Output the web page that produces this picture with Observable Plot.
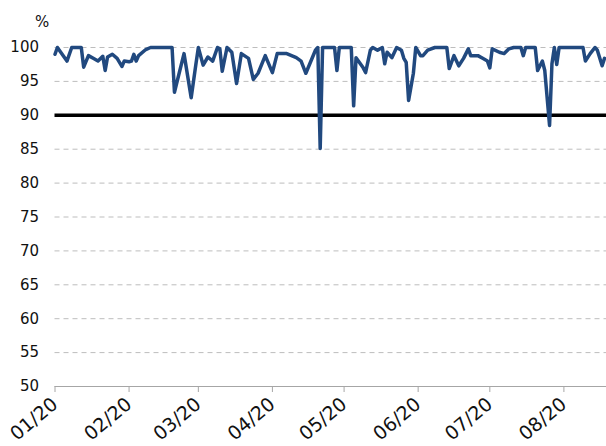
<!DOCTYPE html>
<html>
<head>
<meta charset="utf-8">
<script src="https://cdn.jsdelivr.net/npm/d3@7"></script>
<script src="https://cdn.jsdelivr.net/npm/@observablehq/plot@0.6"></script>
<style>
  html, body { margin: 0; padding: 0; background: #fff; }
</style>
</head>
<body>
<div id="chart"></div>
<script>
const dates = [
  "2020-01-01","2020-01-02","2020-01-06","2020-01-08","2020-01-12","2020-01-13","2020-01-15","2020-01-17",
  "2020-01-19","2020-01-21","2020-01-22","2020-01-23","2020-01-25","2020-01-27","2020-01-29","2020-01-30",
  "2020-02-01","2020-02-02","2020-02-03","2020-02-04","2020-02-05","2020-02-08","2020-02-10","2020-02-19",
  "2020-02-20","2020-02-24","2020-02-27","2020-02-29","2020-03-01","2020-03-03","2020-03-05","2020-03-07",
  "2020-03-09","2020-03-10","2020-03-11","2020-03-13","2020-03-15","2020-03-17","2020-03-19","2020-03-22",
  "2020-03-24","2020-03-26","2020-03-29","2020-04-01","2020-04-03","2020-04-07","2020-04-11","2020-04-13",
  "2020-04-15","2020-04-19","2020-04-20","2020-04-21","2020-04-22","2020-04-27","2020-04-28","2020-04-29",
  "2020-05-04","2020-05-05","2020-05-06","2020-05-09","2020-05-10","2020-05-12","2020-05-13","2020-05-15",
  "2020-05-17","2020-05-18","2020-05-19","2020-05-21","2020-05-23","2020-05-25","2020-05-26","2020-05-27",
  "2020-05-28","2020-05-30","2020-05-31","2020-06-02","2020-06-03","2020-06-05","2020-06-08","2020-06-13",
  "2020-06-14","2020-06-16","2020-06-18","2020-06-20","2020-06-22","2020-06-23","2020-06-26","2020-06-28",
  "2020-06-30","2020-07-01","2020-07-02","2020-07-05","2020-07-07","2020-07-09","2020-07-11","2020-07-14",
  "2020-07-15","2020-07-16","2020-07-20","2020-07-21","2020-07-23","2020-07-24","2020-07-26","2020-07-27",
  "2020-07-28","2020-07-29","2020-07-30","2020-08-09","2020-08-10","2020-08-12","2020-08-14","2020-08-15",
  "2020-08-17","2020-08-18"
];
const values = [
  99.0,100,98.0,100,100,97.1,98.8,98.4,
  98.0,98.7,96.6,98.6,99.0,98.4,97.2,98.0,
  97.9,98.0,99.0,98.0,98.8,99.7,100,100,
  93.4,99.1,92.6,97.6,100,97.4,98.6,98.0,
  100,99.8,96.5,100,99.3,94.7,99.1,98.4,
  95.3,96.2,98.8,96.3,99.1,99.1,98.5,98.0,
  96.2,99.6,100,85.1,100,100,96.6,100,
  100,91.4,98.5,97.0,96.3,99.6,100,99.6,
  100,97.6,99.3,98.5,100,99.6,98.4,97.8,
  92.2,96.2,100,98.8,98.8,99.6,100,100,
  96.9,98.8,97.3,98.4,99.8,98.8,98.8,98.4,
  98.0,97.0,99.8,99.3,99.1,99.8,100,100,
  98.8,100,100,96.6,98.0,96.6,88.5,97.6,
  100,97.5,100,100,98.0,99.1,100,99.6,
  97.3,98.4
];
const xTickLabels = ["01/20","02/20","03/20","04/20","05/20","06/20","07/20","08/20"];
const yTicks = [50,55,60,65,70,75,80,85,90,95,100];
const targetValue = [90];
const unitLabel = ["%"];

const data = dates.map((d, i) => ({date: new Date(d + "T00:00:00Z"), value: values[i]}));
const monthTicks = xTickLabels.map((_, i) => new Date(Date.UTC(2020, i, 1)));

const chart = Plot.plot({
  width: 606,
  height: 446,
  marginTop: 47,
  marginBottom: 60,
  marginLeft: 54.5,
  marginRight: 0,
  style: {fontFamily: "DejaVu Sans", fontSize: "15px", color: "#111", background: "#fff"},
  x: {type: "utc", domain: [new Date(Date.UTC(2020,0,1)), new Date(Date.UTC(2020,7,18,20))]},
  y: {domain: [50, 100]},
  marks: [
    Plot.gridY(yTicks.filter(v => v !== 50 && v !== 90), {stroke: "#bdbdbd", strokeOpacity: 1, strokeDasharray: "5,4"}),
    Plot.ruleY([50], {stroke: "#a6a6a6", strokeWidth: 1}),
    Plot.axisX(monthTicks, {
      tickFormat: (d, i) => xTickLabels[i],
      tickRotate: -40, tickSize: 6, stroke: "#a6a6a6", fill: "#111",
      fontSize: 19, tickPadding: 9, label: null
    }),
    Plot.axisY(yTicks, {tickSize: 0, tickPadding: 16, fontSize: 15, fill: "#111", label: null}),
    Plot.ruleY(targetValue, {stroke: "#000", strokeWidth: 3.5}),
    Plot.line(data, {x: "date", y: "value", stroke: "#21497f", strokeWidth: 3.5, strokeLinejoin: "round"}),
    Plot.text(unitLabel, {frameAnchor: "top-left", dx: -13, dy: -25, fontSize: 15, fill: "#111", textAnchor: "middle", lineAnchor: "middle"})
  ]
});
document.getElementById("chart").appendChild(chart);
</script>
</body>
</html>
